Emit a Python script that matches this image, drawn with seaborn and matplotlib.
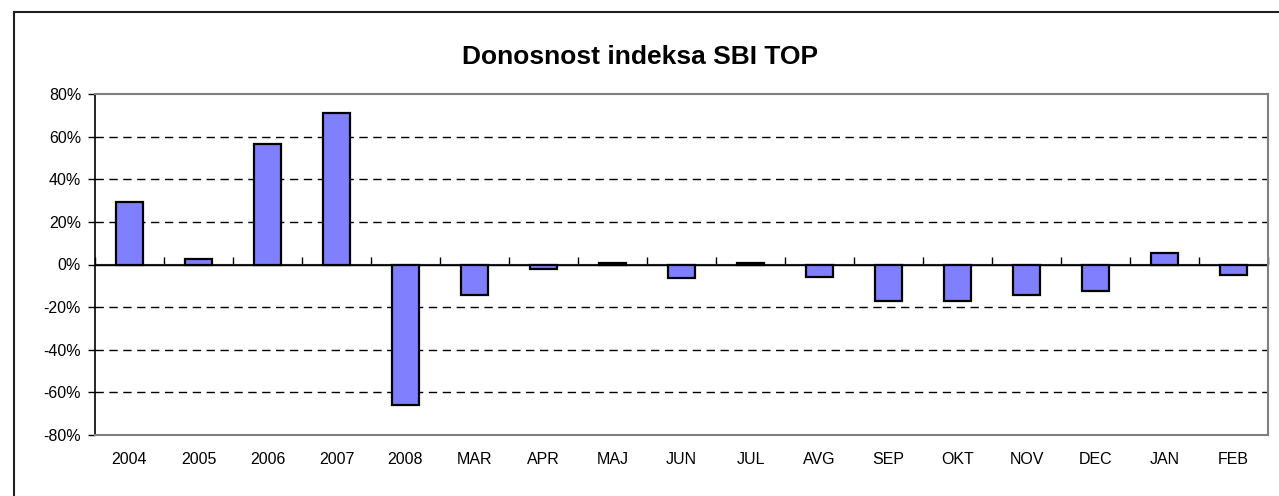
import matplotlib
matplotlib.use("Agg")
import matplotlib.pyplot as plt
import matplotlib.patches as patches
from matplotlib.ticker import FuncFormatter, FixedLocator
import numpy as np
import pandas as pd
import seaborn as sns

# Chart data: returns of the SBI TOP index (in %)
categories = ['2004', '2005', '2006', '2007', '2008', 'MAR', 'APR', 'MAJ', 'JUN',
              'JUL', 'AVG', 'SEP', 'OKT', 'NOV', 'DEC', 'JAN', 'FEB']
returns = [29.2, 2.5, 56.7, 71.0, -66.0, -14.4, -2.2, 0.5, -6.5,
           0.8, -6.0, -16.9, -16.9, -14.4, -12.6, 5.3, -4.7]
y_ticks = [-80, -60, -40, -20, 0, 20, 40, 60, 80]
title = 'Donosnost indeksa SBI TOP'

sns.set_style("white")
plt.rcParams['font.family'] = ['Liberation Sans', 'DejaVu Sans']

df = pd.DataFrame({'period': categories, 'ret': returns})

fig = plt.figure(figsize=(12.79, 4.96), dpi=100)
ax = fig.add_axes([95 / 1279, 61 / 496, 1173 / 1279, 341 / 496])

sns.barplot(data=df, x='period', y='ret', color='#8080ff', saturation=1,
            width=0.4, edgecolor='black', linewidth=1.6, ax=ax, zorder=3)

ax.set_ylim(-80, 80)
ax.set_xlim(-0.5, len(categories) - 0.5)
ax.yaxis.set_major_locator(FixedLocator(y_ticks))
ax.yaxis.set_major_formatter(FuncFormatter(lambda v, p: f"{v:.0f}%"))
ax.set_xlabel('')
ax.set_ylabel('')

# dashed grid lines (not on 0 and the outer limits)
for t in y_ticks:
    if t not in (0, -80, 80):
        ax.axhline(t, color='black', linestyle=(0, (6, 4)), linewidth=1.0, zorder=1)
ax.axhline(0, color='black', linewidth=1.0, zorder=2)

# frame
for side in ['top', 'right', 'bottom']:
    ax.spines[side].set_color('#808080')
    ax.spines[side].set_linewidth(1.5)
ax.spines['left'].set_color('black')
ax.spines['left'].set_linewidth(1.2)

ax.tick_params(axis='y', which='major', left=True, length=5, width=1, pad=5,
               labelsize=11.5, colors='black')
ax.tick_params(axis='x', which='major', bottom=False, length=0, pad=12,
               labelsize=11.5, colors='black')

# small tick marks on the zero line between categories
zero_axis = ax.secondary_xaxis(0.5)
zero_axis.set_xticks(np.arange(len(categories) + 1) - 0.5)
zero_axis.set_xticklabels([])
zero_axis.tick_params(direction='out', length=5, width=1, color='black')
zero_axis.spines['bottom'].set_visible(False)

fig.text(640 / 1279, 1 - 57 / 496, title, ha='center', va='center',
         fontsize=19, fontweight='bold', color='black')

# outer chart border
fig.patches.append(patches.Rectangle((14 / 1279, -0.05), 1.2, 1 - 12 / 496 + 0.05,
                                     transform=fig.transFigure, fill=False,
                                     edgecolor='#202020', linewidth=1.5))

fig.savefig('out.png', dpi=100)
